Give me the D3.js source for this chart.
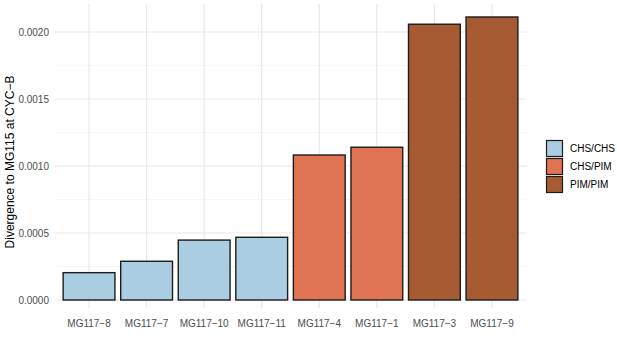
<!DOCTYPE html>
<html>
<head>
<meta charset="utf-8">
<script src="https://cdn.jsdelivr.net/npm/d3@7"></script>
<style>
  body { margin: 0; background: #fff; }
  text { font-family: "Liberation Sans", Arial, sans-serif; }
</style>
</head>
<body>
<div id="chart"></div>
<script>
// values
const samples = ["MG117-8", "MG117-7", "MG117-10", "MG117-11", "MG117-4", "MG117-1", "MG117-3", "MG117-9"];
const divergence = [0.000204, 0.000289, 0.000447, 0.000468, 0.001082, 0.001140, 0.002058, 0.002112];
const groups = ["CHS/CHS", "CHS/CHS", "CHS/CHS", "CHS/CHS", "CHS/PIM", "CHS/PIM", "PIM/PIM", "PIM/PIM"];
const groupKeys = ["CHS/CHS", "CHS/PIM", "PIM/PIM"];
const groupColors = ["#abcde1", "#e07352", "#a65b33"];
const yTicks = [0, 0.0005, 0.001, 0.0015, 0.002];
const yMinor = [0.00025, 0.00075, 0.00125, 0.00175];

const W = 617, H = 339;
const panel = { left: 54.5, right: 526.5, top: 4, bottom: 300 };

const svg = d3.select("#chart").append("svg")
  .attr("width", W).attr("height", H);

const data = samples.map((s, i) => ({ s, v: divergence[i], g: groups[i] }));

// ggplot-like discrete scale: 0.6 step padding each side
const x = d3.scalePoint().domain(samples)
  .range([panel.left, panel.right]).padding(0.6);
const step = x.step();
const barW = step * 0.9;

const y = d3.scaleLinear()
  .domain([0, 0.0005 * (panel.bottom - panel.top) / 67])
  .range([panel.bottom, panel.top]);

const color = d3.scaleOrdinal().domain(groupKeys).range(groupColors);

// grid
const grid = svg.append("g");
grid.selectAll(".minor").data(yMinor).enter().append("line")
  .attr("x1", panel.left).attr("x2", panel.right)
  .attr("y1", d => y(d)).attr("y2", d => y(d))
  .attr("stroke", "#f0f0f0").attr("stroke-width", 0.7);
grid.selectAll(".major").data(yTicks).enter().append("line")
  .attr("x1", panel.left).attr("x2", panel.right)
  .attr("y1", d => y(d)).attr("y2", d => y(d))
  .attr("stroke", "#e8e8e8").attr("stroke-width", 1.2);
grid.selectAll(".vx").data(samples).enter().append("line")
  .attr("x1", d => x(d)).attr("x2", d => x(d))
  .attr("y1", panel.top).attr("y2", panel.bottom + 8)
  .attr("stroke", "#e8e8e8").attr("stroke-width", 1.2);

// bars
svg.append("g").selectAll("rect").data(data).enter().append("rect")
  .attr("x", d => x(d.s) - barW / 2)
  .attr("y", d => y(d.v))
  .attr("width", barW)
  .attr("height", d => y(0) - y(d.v))
  .attr("fill", d => color(d.g))
  .attr("stroke", "#1c1c1c").attr("stroke-width", 1.4);

// y axis labels
svg.append("g").selectAll("text").data(yTicks).enter().append("text")
  .attr("x", 49).attr("y", d => y(d)).attr("dy", "0.35em")
  .attr("text-anchor", "end").attr("font-size", 10).attr("fill", "#4d4d4d")
  .text(d => d3.format(".4f")(d));

// x axis labels
svg.append("g").selectAll("text").data(samples).enter().append("text")
  .attr("x", d => x(d)).attr("y", 323).attr("dy", "0.35em")
  .attr("text-anchor", "middle").attr("font-size", 10).attr("fill", "#4d4d4d")
  .text(d => d.replace("-", "\u2212"));

// y title
svg.append("text")
  .attr("transform", `translate(10, ${(panel.top + panel.bottom) / 2 + 10}) rotate(-90)`)
  .attr("dy", "0.35em")
  .attr("text-anchor", "middle").attr("font-size", 12).attr("fill", "#000")
  .text("Divergence to MG115 at CYC\u2212B");

// legend
const legend = svg.append("g").attr("transform", "translate(546, 140)");
groupKeys.forEach((k, i) => {
  const lg = legend.append("g").attr("transform", `translate(0, ${i * 18})`);
  lg.append("rect").attr("x", 0.5).attr("y", 0.5).attr("width", 16).attr("height", 16)
    .attr("fill", color(k)).attr("stroke", "#1c1c1c").attr("stroke-width", 1.2);
  lg.append("text").attr("x", 24).attr("y", 8.5).attr("dy", "0.35em")
    .attr("font-size", 10).attr("fill", "#000").text(k);
});
</script>
</body>
</html>
